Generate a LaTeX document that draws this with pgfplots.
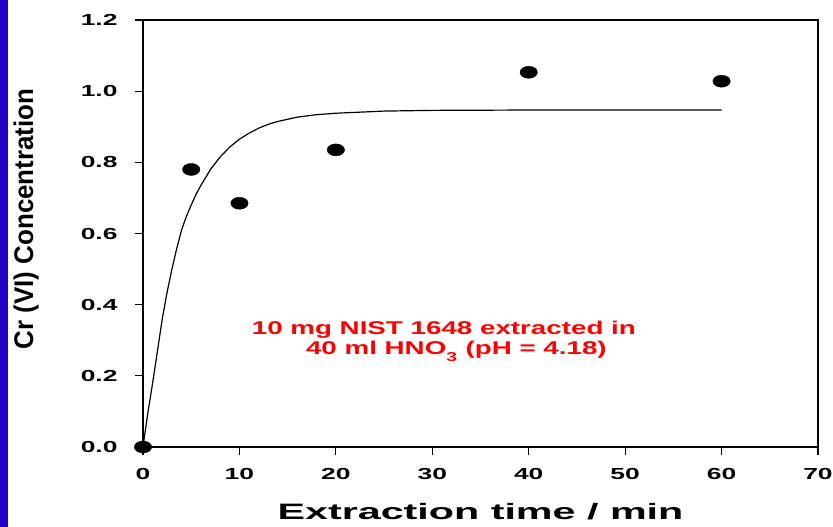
\documentclass[border=0pt]{standalone}
\usepackage{fontspec}
\setmainfont{Liberation Sans}
\usepackage{graphicx}
\usepackage{pgfplots}
\pgfplotsset{compat=1.18}
\definecolor{stripBlue}{RGB}{34,0,200}
\definecolor{noteRed}{RGB}{255,0,0}
\newcommand{\tl}[1]{\scalebox{1.65}[1]{\bfseries #1}}

\begin{document}
\begin{tikzpicture}
\path[use as bounding box, fill=white] (0,0) rectangle (833pt,527pt);
\fill[stripBlue] (0,0) rectangle (7.5pt,527pt);
\begin{axis}[
  at={(143pt,80pt)}, anchor=south west,
  width=675pt, height=427pt, scale only axis,
  xmin=0, xmax=70, ymin=0, ymax=1.2,
  xtick={0,10,...,70}, ytick={0,0.2,0.4,0.6,0.8,1.0,1.2},
  xticklabels={\tl{0},\tl{10},\tl{20},\tl{30},\tl{40},\tl{50},\tl{60},\tl{70}},
  yticklabels={\tl{0.0},\tl{0.2},\tl{0.4},\tl{0.6},\tl{0.8},\tl{1.0},\tl{1.2}},
  tick label style={font=\fontsize{16}{16}\selectfont},
  xticklabel style={yshift=-10pt},
  yticklabel style={xshift=-14pt},
  tickpos=left, tick align=outside,
  major tick length=8pt,
  tick style={black, line width=1.2pt},
  axis line style={line width=1.4pt},
  xlabel={\scalebox{1.85}[1]{\bfseries Extraction time / min}},
  xlabel style={font=\fontsize{22.3}{24}\selectfont, at={(axis description cs:0.5,0)}, anchor=center, yshift=-65pt},
  ylabel={\scalebox{0.96}[1]{\bfseries Cr (VI) Concentration}},
  ylabel style={font=\fontsize{27}{28}\selectfont, at={(axis description cs:-0.1733,0.534)}, anchor=center},
  clip=false,
]
% fitted curve
\addplot[black, line width=1.2pt] coordinates {
  (0,0) (0.5,0.095) (1,0.18) (1.5,0.27) (2,0.36) (2.5,0.435) (3,0.50) (3.5,0.558)
  (4,0.61) (4.5,0.648) (5,0.68) (5.5,0.71) (6,0.735) (7,0.78) (8,0.815) (9,0.843)
  (10,0.865) (11,0.882) (12,0.896) (13,0.907) (14,0.915) (16,0.927) (18,0.934)
  (20,0.938) (25,0.944) (30,0.946) (40,0.947) (60,0.947)
};
% measured points
\addplot[only marks, mark=*, mark size=6pt, mark options={xscale=1.45, fill=black, draw=black}] coordinates {
  (0,0) (5,0.78) (10,0.685) (20,0.835) (40,1.053) (60,1.028)
};
\node[anchor=base, text=noteRed, font=\fontsize{18.5}{20}\selectfont] at (axis cs:31.2,0.315)
  {\scalebox{1.5}[1]{\bfseries 10 mg NIST 1648 extracted in}};
\node[anchor=base, text=noteRed, font=\fontsize{18.5}{20}\selectfont] at (axis cs:32.5,0.259)
  {\scalebox{1.5}[1]{\bfseries 40 ml HNO\raisebox{-0.35ex}{\textsubscript{3}} (pH = 4.18)}};
\end{axis}
\end{tikzpicture}
\end{document}
